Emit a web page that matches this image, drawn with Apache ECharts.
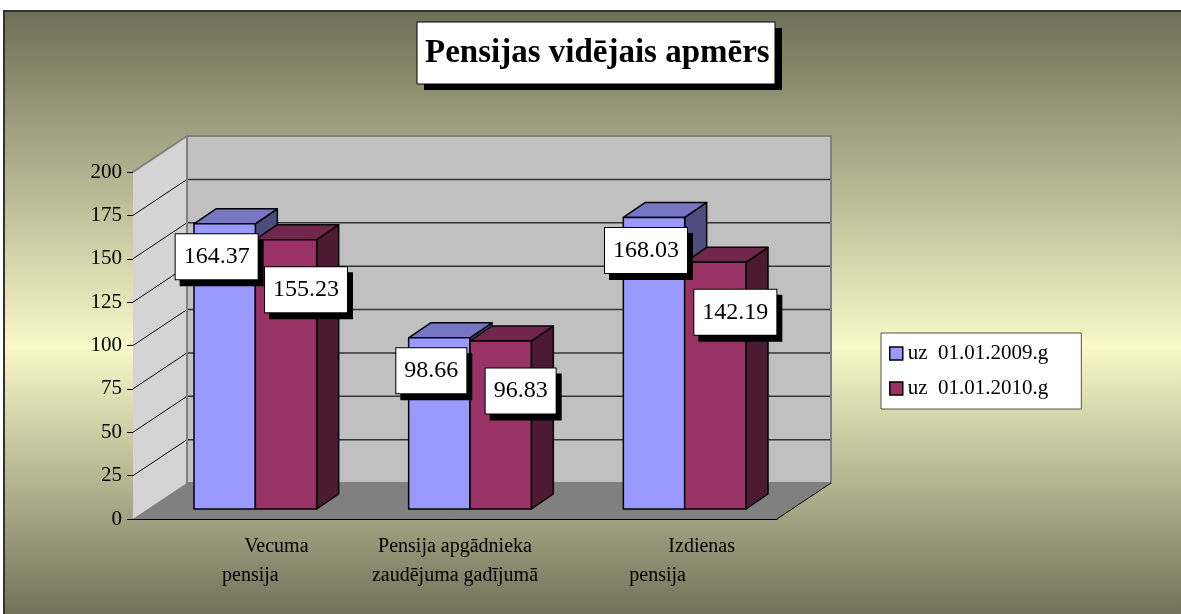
<!DOCTYPE html>
<html lang="lv">

<head>
    <meta charset="UTF-8">
    <meta name="viewport" content="width=device-width, initial-scale=1.0">
    <title>Pensijas vidējais apmērs</title>
    <script src="https://cdn.jsdelivr.net/npm/echarts@6/dist/echarts.min.js"></script>
    <style>
        html, body {
            margin: 0;
            padding: 0;
            background: #fff;
        }
        #chart {
            width: 1181px;
            height: 614px;
        }
    </style>
</head>

<body>
    <div id="chart"></div>

    <script>
        // dati
        var categories = ['Vecuma\npensija', 'Pensija apgādnieka\nzaudējuma gadījumā', 'Izdienas\npensija'];
        var seriesNames = ['uz  01.01.2009.g', 'uz  01.01.2010.g'];
        var values2009 = [164.37, 98.66, 168.03];
        var values2010 = [155.23, 96.83, 142.19];
        var yTicks = [0, 25, 50, 75, 100, 125, 150, 175, 200];

        var FONT = "'Liberation Serif', 'Times New Roman', serif";
        // 3D dziļums sienām un stabiņiem
        var WALL_DX = 54, WALL_DY = -36;
        var BAR_SHIFT_X = 15, BAR_SHIFT_Y = -10;
        var BAR_DX = 22, BAR_DY = -15;

        var palettes = [
            { front: '#9999ff', top: '#7676c4', side: '#4d4d80' },
            { front: '#993366', top: '#73264d', side: '#4d1a33' }
        ];
        var labelOffsets = [[-8, 33], [20, 50]];

        function toData(vals) {
            return vals.map(function (v, i) { return [i, v]; });
        }

        function wallsRender(params, api) {
            var cs = params.coordSys;
            var L = cs.x, R = cs.x + cs.width, T = cs.y, B = cs.y + cs.height;
            var kids = [];
            kids.push({
                type: 'polygon',
                shape: { points: [[L, T], [L + WALL_DX, T + WALL_DY], [L + WALL_DX, B + WALL_DY], [L, B]] },
                style: { fill: '#d4d4d4' }
            });
            kids.push({
                type: 'rect',
                shape: { x: L + WALL_DX, y: T + WALL_DY, width: cs.width, height: cs.height },
                style: { fill: '#c0c0c0' }
            });
            kids.push({
                type: 'polygon',
                shape: { points: [[L, B], [L + WALL_DX, B + WALL_DY], [R + WALL_DX, B + WALL_DY], [R, B]] },
                style: { fill: '#808080' }
            });
            yTicks.forEach(function (t) {
                if (t <= yTicks[0] || t >= yTicks[yTicks.length - 1]) return;
                var y = api.coord([0, t])[1];
                kids.push({
                    type: 'line',
                    shape: { x1: L, y1: y, x2: L + WALL_DX, y2: y + WALL_DY },
                    style: { stroke: '#000', lineWidth: 1 }
                });
                kids.push({
                    type: 'line',
                    shape: { x1: L + WALL_DX, y1: y + WALL_DY, x2: R + WALL_DX, y2: y + WALL_DY },
                    style: { stroke: '#333', lineWidth: 1.5 }
                });
            });
            kids.push({
                type: 'rect',
                shape: { x: L + WALL_DX, y: T + WALL_DY, width: cs.width, height: cs.height },
                style: { fill: null, stroke: '#808080', lineWidth: 2 }
            });
            kids.push({
                type: 'line',
                shape: { x1: L, y1: T, x2: L + WALL_DX, y2: T + WALL_DY },
                style: { stroke: '#808080', lineWidth: 2 }
            });
            kids.push({
                type: 'line',
                shape: { x1: R, y1: B, x2: R + WALL_DX, y2: B + WALL_DY },
                style: { stroke: '#000', lineWidth: 1 }
            });
            return { type: 'group', children: kids };
        }

        function barRender(sIdx) {
            var pal = palettes[sIdx];
            return function (params, api) {
                var i = api.value(0), v = api.value(1);
                var top = api.coord([i, v]);
                var base = api.coord([i, 0]);
                var band = api.size([1, 0])[0];
                var w = band / 3.5;
                var x0 = top[0] - w + sIdx * w + BAR_SHIFT_X;
                var x1 = x0 + w;
                var yt = top[1] + BAR_SHIFT_Y;
                var yb = base[1] + BAR_SHIFT_Y;
                var edge = { stroke: '#000', lineWidth: 1.5, lineJoin: 'round' };
                var off = labelOffsets[sIdx];
                return {
                    type: 'group',
                    children: [
                        {
                            type: 'polygon', z2: sIdx,
                            shape: { points: [[x1, yt], [x1 + BAR_DX, yt + BAR_DY], [x1 + BAR_DX, yb + BAR_DY], [x1, yb]] },
                            style: Object.assign({ fill: pal.side }, edge)
                        },
                        {
                            type: 'polygon', z2: sIdx,
                            shape: { points: [[x0, yt], [x1, yt], [x1 + BAR_DX, yt + BAR_DY], [x0 + BAR_DX, yt + BAR_DY]] },
                            style: Object.assign({ fill: pal.top }, edge)
                        },
                        {
                            type: 'rect', z2: sIdx,
                            shape: { x: x0, y: yt, width: w, height: yb - yt },
                            style: Object.assign({ fill: pal.front }, edge)
                        },
                        {
                            type: 'text', z2: 20,
                            x: (x0 + x1) / 2 + off[0],
                            y: yt + off[1],
                            style: {
                                text: v.toFixed(2),
                                font: '24px ' + FONT,
                                fill: '#000',
                                align: 'center',
                                verticalAlign: 'middle',
                                backgroundColor: '#fff',
                                borderColor: '#000',
                                borderWidth: 1,
                                padding: [11, 8, 10, 8],
                                shadowColor: '#000',
                                shadowBlur: 0,
                                shadowOffsetX: 5,
                                shadowOffsetY: 6
                            }
                        }
                    ]
                };
            };
        }

        var chart = echarts.init(document.getElementById('chart'));
        chart.setOption({
            backgroundColor: '#fff',
            animation: false,
            graphic: [
                {
                    type: 'rect',
                    z: -10,
                    silent: true,
                    shape: { x: 4, y: 11, width: 1200, height: 610 },
                    style: {
                        fill: new echarts.graphic.LinearGradient(0, 0, 0, 1, [
                            { offset: 0, color: '#6d6f57' },
                            { offset: 0.55, color: '#f8f8c8' },
                            { offset: 1, color: '#6d6f57' }
                        ]),
                        stroke: '#333',
                        lineWidth: 2
                    }
                },
                // virsraksta rāmis ar ēnu
                {
                    type: 'rect', z: 3, silent: true,
                    shape: { x: 424, y: 28, width: 358, height: 62 },
                    style: { fill: '#000' }
                },
                {
                    type: 'rect', z: 4, silent: true,
                    shape: { x: 417, y: 22, width: 358, height: 62 },
                    style: { fill: '#fff', stroke: '#000', lineWidth: 1 }
                }
            ],
            title: {
                text: 'Pensijas vidējais apmērs',
                left: 425,
                top: 33,
                padding: 0,
                textStyle: {
                    fontFamily: FONT,
                    fontSize: 33,
                    lineHeight: 40,
                    fontWeight: 'bold',
                    color: '#000'
                }
            },
            legend: {
                data: seriesNames,
                orient: 'vertical',
                left: 881,
                top: 333,
                padding: [10, 33, 10, 8],
                itemGap: 14,
                itemWidth: 13,
                itemHeight: 13,
                icon: 'rect',
                backgroundColor: '#fff',
                borderColor: '#555',
                borderWidth: 1,
                itemStyle: { borderColor: '#000', borderWidth: 1.5 },
                textStyle: { fontFamily: FONT, fontSize: 21, color: '#000' }
            },
            grid: {
                left: 133,
                top: 172,
                width: 644,
                height: 347
            },
            xAxis: {
                type: 'category',
                data: categories,
                axisLine: { lineStyle: { color: '#000', width: 1 } },
                axisTick: { length: 6, lineStyle: { color: '#000' } },
                axisLabel: {
                    interval: 0,
                    margin: 13,
                    color: '#000',
                    fontFamily: FONT,
                    fontSize: 20,
                    formatter: function (val, idx) {
                        var parts = val.split('\n');
                        return '{a' + idx + '|' + parts[0] + '}\n{b' + idx + '|' + parts[1] + '}';
                    },
                    rich: {
                        a0: { fontFamily: FONT, fontSize: 20, lineHeight: 29, padding: [0, 0, 0, 72] },
                        b0: { fontFamily: FONT, fontSize: 20, lineHeight: 29, padding: [0, 0, 0, 20] },
                        a1: { fontFamily: FONT, fontSize: 20, lineHeight: 29 },
                        b1: { fontFamily: FONT, fontSize: 20, lineHeight: 29 },
                        a2: { fontFamily: FONT, fontSize: 20, lineHeight: 29, padding: [0, 0, 0, 64] },
                        b2: { fontFamily: FONT, fontSize: 20, lineHeight: 29, padding: [0, 24, 0, 0] }
                    }
                }
            },
            yAxis: {
                type: 'value',
                min: 0,
                max: 200,
                interval: 25,
                axisLine: { show: true, lineStyle: { color: '#000', width: 1 } },
                axisTick: { show: true, length: 6, lineStyle: { color: '#000' } },
                axisLabel: { margin: 11, color: '#000', fontFamily: FONT, fontSize: 21 },
                splitLine: { show: false }
            },
            series: [
                {
                    name: 'walls',
                    type: 'custom',
                    silent: true,
                    z: 1,
                    renderItem: wallsRender,
                    data: [[0, 0]]
                },
                {
                    name: seriesNames[0],
                    type: 'custom',
                    z: 2,
                    itemStyle: { color: palettes[0].front },
                    renderItem: barRender(0),
                    data: toData(values2009)
                },
                {
                    name: seriesNames[1],
                    type: 'custom',
                    z: 2,
                    itemStyle: { color: palettes[1].front },
                    renderItem: barRender(1),
                    data: toData(values2010)
                }
            ]
        });
    </script>
</body>

</html>
